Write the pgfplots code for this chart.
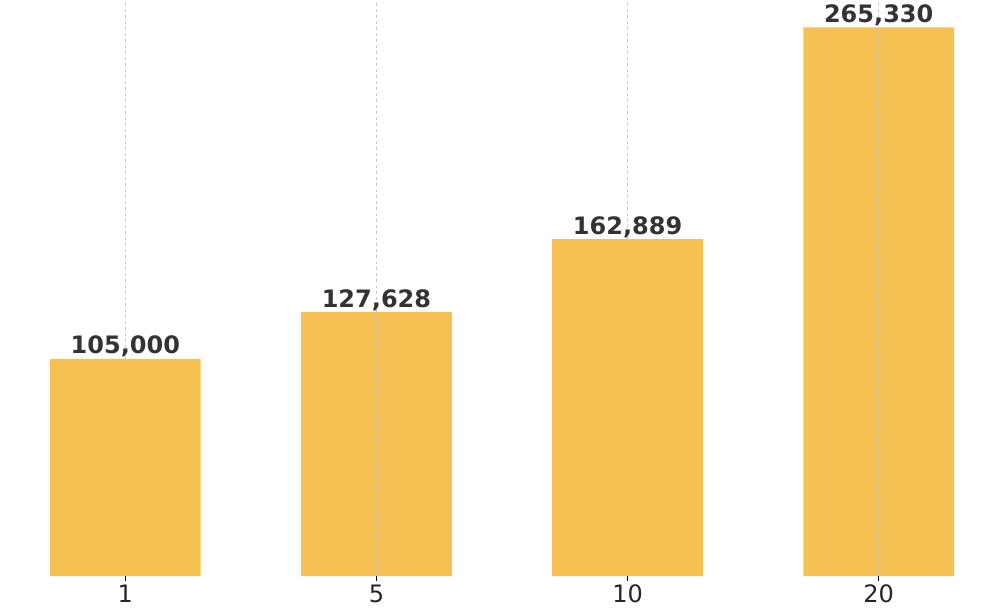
\documentclass[border=0pt]{standalone}
\usepackage{pgfplots}
\pgfplotsset{compat=1.18}
\usepackage{fontspec}
\setmainfont{DejaVu Sans}
\definecolor{barc}{HTML}{F4C152}
\definecolor{txt}{HTML}{333333}
\begin{document}
\begin{tikzpicture}
\begin{axis}[
  at={(0,0)}, anchor=south west,
  scale only axis, width=904pt, height=576pt,
  xmin=-0.3, xmax=3.3, ymin=0, ymax=278596,
  axis line style={draw=none},
  ytick=\empty,
  xtick={0,1,2,3}, xticklabels={1,5,10,20},
  xtick pos=bottom, tick align=outside,
  major tick length=5pt,
  tick style={black, line width=0.8pt},
  xmajorgrids, grid style={dashed, black!22, line width=0.8pt},
  axis on top,
  ticklabel style={font=\fontsize{24}{28}\selectfont, text=black!85},
  /pgf/number format/assume math mode=true,
  point meta=explicit symbolic,
  nodes near coords={\pgfplotspointmeta},
  nodes near coords style={font=\fontsize{24}{28}\selectfont\bfseries, text=txt, anchor=base, yshift=5pt},
]
\addplot[ybar, bar width=0.6, fill=barc, draw=none] table[x=x, y=y, meta=lab] {
x y lab
0 105000 105,000
1 127628 127,628
2 162889 162,889
3 265330 265,330
};
\end{axis}
\pgfresetboundingbox
\path[use as bounding box] (-50pt,-38pt) rectangle (956pt,576pt);
\end{tikzpicture}
\end{document}
